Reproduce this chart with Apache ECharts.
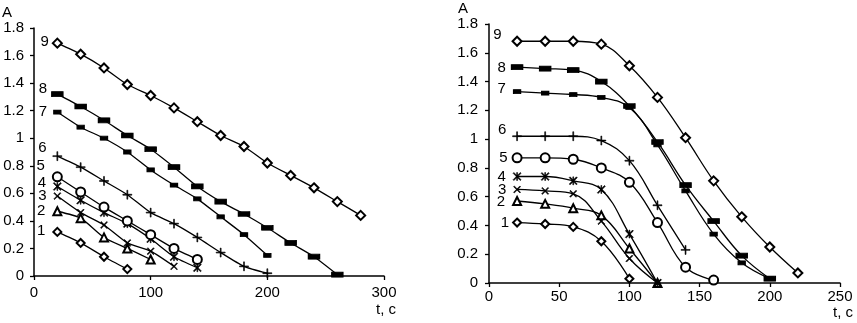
<!DOCTYPE html>
<html>
<head>
<meta charset="utf-8">
<script src="https://cdn.jsdelivr.net/npm/echarts@6/dist/echarts.min.js"></script>
<style>
    html, body {margin: 0; padding: 0; background: #fff;}
    #app {width: 857px; height: 323px;}
</style>
</head>
<body>
<div id="app"></div>
<script>
    //时间点 (t, c)
    var times = [20, 40, 60, 80, 100, 120, 140, 160, 180, 200, 220, 240, 260, 280]

    //左图数据
    var left1 = [0.32, 0.24, 0.14, 0.05]
    var left2 = [0.47, 0.42, 0.28, 0.20, 0.12]
    var left3 = [0.58, 0.46, 0.37, 0.24, 0.18, 0.07]
    var left4 = [0.65, 0.55, 0.46, 0.38, 0.27, 0.14, 0.06]
    var left5 = [0.72, 0.61, 0.50, 0.40, 0.30, 0.20, 0.12]
    var left6 = [0.87, 0.79, 0.69, 0.59, 0.46, 0.38, 0.28, 0.17, 0.07, 0.02]
    var left7 = [1.19, 1.08, 1.00, 0.90, 0.77, 0.66, 0.56, 0.43, 0.30, 0.15]
    var left8 = [1.32, 1.23, 1.13, 1.02, 0.92, 0.79, 0.65, 0.54, 0.45, 0.35, 0.24, 0.14, 0.01]
    var left9 = [1.69, 1.61, 1.51, 1.39, 1.31, 1.22, 1.12, 1.02, 0.94, 0.82, 0.73, 0.64, 0.54, 0.44]

    //右图数据
    var right1 = [0.42, 0.41, 0.39, 0.29, 0.03]
    var right2 = [0.57, 0.55, 0.52, 0.47, 0.24, 0.00]
    var right3 = [0.65, 0.64, 0.62, 0.43, 0.17, 0.00]
    var right4 = [0.74, 0.74, 0.71, 0.65, 0.34, 0.00]
    var right5 = [0.87, 0.87, 0.86, 0.80, 0.70, 0.42, 0.11, 0.02]
    var right6 = [1.02, 1.02, 1.02, 0.99, 0.85, 0.54, 0.23]
    var right7 = [1.33, 1.32, 1.31, 1.29, 1.22, 0.96, 0.64, 0.34, 0.14, 0.03]
    var right8 = [1.50, 1.49, 1.48, 1.40, 1.23, 0.98, 0.68, 0.43, 0.19, 0.03]
    var right9 = [1.68, 1.68, 1.68, 1.66, 1.51, 1.29, 1.01, 0.71, 0.46, 0.25, 0.07]

    //轴刻度
    var yTicks = {min: 0, max: 1.8, interval: 0.2}
    var xLeft = {min: 0, max: 300, interval: 100}
    var xRight = {min: 0, max: 250, interval: 50}

    var font = 'Liberation Sans, Arial, sans-serif'
    var fs = 15

    var xPath = 'path://M0,1L1,0L10,9L9,10Z M9,0L10,1L1,10L0,9Z'
    var plusPath = 'path://M0,4.5H10V5.5H0Z M4.5,0H5.5V10H4.5Z'
    var starPath = 'path://M0,1L1,0L10,9L9,10Z M9,0L10,1L1,10L0,9Z M4.5,0H5.5V10H4.5Z'

    //标记样式
    var marks = [
        {symbol: 'emptyDiamond', size: 8},
        {symbol: 'emptyTriangle', size: 8},
        {symbol: xPath, size: 7},
        {symbol: starPath, size: 8},
        {symbol: 'emptyCircle', size: 9},
        {symbol: plusPath, size: 9},
        {symbol: 'rect', size: [7, 4]},
        {symbol: 'rect', size: [11, 5]},
        {symbol: 'emptyDiamond', size: 9}
    ]

    //曲线编号位置 [distance, dy]
    var leftLab = [[7, -1], [7, 0], [7, 0], [7, -4], [7, -11], [6, -8], [6, 0], [4, -5], [3, -1]]
    var rightLab = [[3, 0], [7, 1], [7, 0], [7, 0], [4, 0], [6, -6], [7, -3], [5, 1], [10, -6]]

    var makeSeries = (vals, idx, grid, lab) => {
        var data = vals.map((v, i) => [times[i], v])
        data[0] = {
            value: data[0],
            label: {
                show: true,
                formatter: String(idx + 1),
                position: 'left',
                distance: lab[0],
                offset: [0, lab[1]],
                color: '#000',
                fontSize: fs,
                fontFamily: font
            }
        }
        var isPath = typeof marks[idx].symbol === 'string' && marks[idx].symbol.indexOf('path://') === 0
        return {
            type: 'line',
            xAxisIndex: grid,
            yAxisIndex: grid,
            data: data,
            symbol: marks[idx].symbol,
            symbolSize: marks[idx].size,
            smooth: grid ? 0.4 : 0.2,
            lineStyle: {color: '#000', width: 1.3},
            itemStyle: {color: '#000', borderColor: '#000', borderWidth: isPath ? 0.6 : 1},
            emphasis: {disabled: true},
            animation: false,
            z: 2
        }
    }

    var axisCommon = {
        splitLine: {show: false},
        axisLine: {lineStyle: {color: '#000', width: 1.5}},
        axisTick: {show: true, inside: false, length: 4, lineStyle: {color: '#000', width: 1.3}},
        axisLabel: {color: '#000', fontSize: fs, fontFamily: font},
        nameTextStyle: {color: '#000', fontSize: fs, fontFamily: font}
    }

    var chart = echarts.init(document.getElementById('app'))

    var series = []
    ;[left1, left2, left3, left4, left5, left6, left7, left8, left9].forEach((v, i) => {
        series.push(makeSeries(v, i, 0, leftLab[i]))
    })
    ;[right1, right2, right3, right4, right5, right6, right7, right8, right9].forEach((v, i) => {
        series.push(makeSeries(v, i, 1, rightLab[i]))
    })

    chart.setOption({
        backgroundColor: '#fff',
        animation: false,
        grid: [
            {left: 34, top: 28, width: 350, height: 248},
            {left: 489, top: 24, width: 351, height: 259}
        ],
        xAxis: [
            Object.assign({}, axisCommon, {
                type: 'value', gridIndex: 0, min: xLeft.min, max: xLeft.max, interval: xLeft.interval,
                name: 't, c', nameLocation: 'end', nameGap: 2,
                nameTextStyle: Object.assign({}, axisCommon.nameTextStyle, {align: 'center', verticalAlign: 'top', padding: [26, 0, 0, 0]}),
                axisLabel: Object.assign({}, axisCommon.axisLabel, {margin: 9})
            }),
            Object.assign({}, axisCommon, {
                type: 'value', gridIndex: 1, min: xRight.min, max: xRight.max, interval: xRight.interval,
                name: 't, c', nameLocation: 'end', nameGap: 3,
                nameTextStyle: Object.assign({}, axisCommon.nameTextStyle, {align: 'center', verticalAlign: 'top', padding: [22, 0, 0, 0]}),
                axisLabel: Object.assign({}, axisCommon.axisLabel, {margin: 6})
            })
        ],
        yAxis: [
            Object.assign({}, axisCommon, {
                type: 'value', gridIndex: 0, min: yTicks.min, max: yTicks.max, interval: yTicks.interval,
                name: 'A', nameLocation: 'end', nameGap: 7,
                nameTextStyle: Object.assign({}, axisCommon.nameTextStyle, {align: 'right', padding: [0, 22, 0, 0]}),
                axisLabel: Object.assign({}, axisCommon.axisLabel, {margin: 10})
            }),
            Object.assign({}, axisCommon, {
                type: 'value', gridIndex: 1, min: yTicks.min, max: yTicks.max, interval: yTicks.interval,
                name: 'A', nameLocation: 'end', nameGap: 5,
                nameTextStyle: Object.assign({}, axisCommon.nameTextStyle, {align: 'right', padding: [0, 21, 0, 0]}),
                axisLabel: Object.assign({}, axisCommon.axisLabel, {margin: 11})
            })
        ],
        series: series
    })
</script>
</body>
</html>
